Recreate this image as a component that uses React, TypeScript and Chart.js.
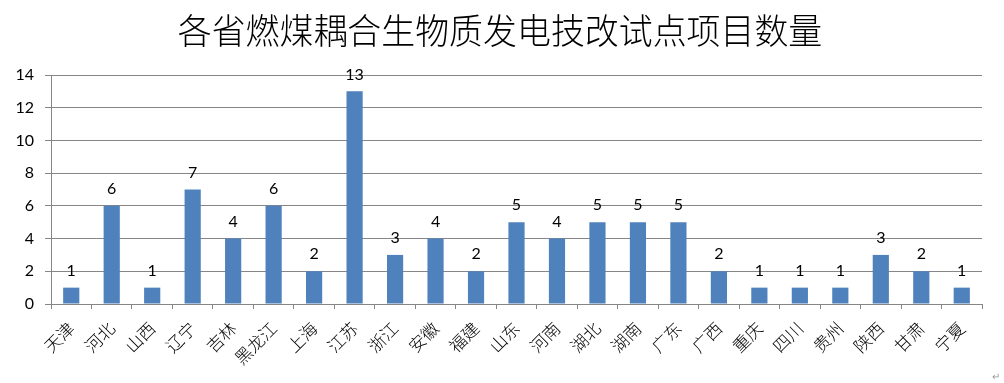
import React, { useEffect, useRef } from "react";
import { Chart, registerables } from "chart.js";

Chart.register(...registerables);

const TITLE = "各省燃煤耦合生物质发电技改试点项目数量";
const categories = ["天津", "河北", "山西", "辽宁", "吉林", "黑龙江", "上海", "江苏", "浙江", "安徽", "福建", "山东", "河南", "湖北", "湖南", "广东", "广西", "重庆", "四川", "贵州", "陕西", "甘肃", "宁夏"];
const counts = [1, 6, 1, 7, 4, 6, 2, 13, 3, 4, 2, 5, 4, 5, 5, 5, 2, 1, 1, 1, 3, 2, 1];
const yTicks = [0, 2, 4, 6, 8, 10, 12, 14];

const NUM_FONT = "Lato, 'Open Sans', sans-serif";
const CJK_FONT = "'Noto Sans CJK SC', sans-serif";

const overlay = {
  id: "overlay",
  afterDatasetsDraw(chart: any) {
    const ctx = chart.ctx;
    const meta = chart.getDatasetMeta(0);
    ctx.save();
    ctx.fillStyle = "#000";
    ctx.font = `16px ${NUM_FONT}`;
    ctx.textAlign = "center";
    ctx.textBaseline = "bottom";
    meta.data.forEach((el: any, i: number) => {
      ctx.fillText(String(counts[i]), el.x, el.y - 9);
    });
    ctx.restore();
  },
  afterDraw(chart: any) {
    const ctx = chart.ctx;
    ctx.save();
    ctx.fillStyle = "#000";
    ctx.font = `300 32px ${CJK_FONT}`;
    ctx.textAlign = "center";
    ctx.textBaseline = "middle";
    ctx.translate(500, 31);
    ctx.scale(1.06, 1.1);
    ctx.fillText(TITLE, 0, 0);
    ctx.restore();
    ctx.save();
    ctx.fillStyle = "#999";
    ctx.font = `10px ${CJK_FONT}`;
    ctx.textAlign = "center";
    ctx.textBaseline = "middle";
    ctx.fillText("↵", 996, 376);
    ctx.restore();
  },
};

export default function App() {
  const ref = useRef<HTMLCanvasElement>(null);
  useEffect(() => {
    document.body.style.margin = "0";
    const chart = new Chart(ref.current!, {
      type: "bar",
      data: {
        labels: categories,
        datasets: [
          {
            data: counts,
            backgroundColor: "#4F81BD",
            borderWidth: 0,
            barPercentage: 0.4,
            categoryPercentage: 1,
          },
        ],
      },
      options: {
        animation: false,
        responsive: false,
        maintainAspectRatio: false,
        layout: { padding: { top: 75, left: 0, right: 22, bottom: 0 } },
        plugins: {
          legend: { display: false },
          title: { display: false },
          tooltip: { enabled: false },
        },
        scales: {
          x: {
            offset: true,
            grid: {
              display: true,
              drawOnChartArea: false,
              drawTicks: true,
              tickLength: 5,
              color: "#868686",
              offset: true,
            },
            border: { display: true, color: "#868686", width: 1 },
            ticks: {
              autoSkip: false,
              maxRotation: 45,
              minRotation: 45,
              padding: 9,
              color: "#000",
              font: { family: CJK_FONT, size: 17, weight: "300" },
            },
            afterFit(scale: any) {
              scale.height = 79;
            },
          },
          y: {
            min: 0,
            max: 14,
            afterBuildTicks(scale: any) {
              scale.ticks = yTicks.map((v) => ({ value: v }));
            },
            grid: {
              color: "#868686",
              tickLength: 6,
              drawTicks: true,
            },
            border: { display: true, color: "#868686", width: 1 },
            ticks: {
              padding: 11,
              color: "#000",
              font: { family: NUM_FONT, size: 16 },
            },
            afterFit(scale: any) {
              scale.width = 51;
            },
          },
        },
      },
      plugins: [overlay],
    });
    return () => chart.destroy();
  }, []);
  return (
    <div style={{ width: 1004, height: 383 }}>
      <canvas ref={ref} width={1004} height={383} style={{ display: "block" }} />
    </div>
  );
}
